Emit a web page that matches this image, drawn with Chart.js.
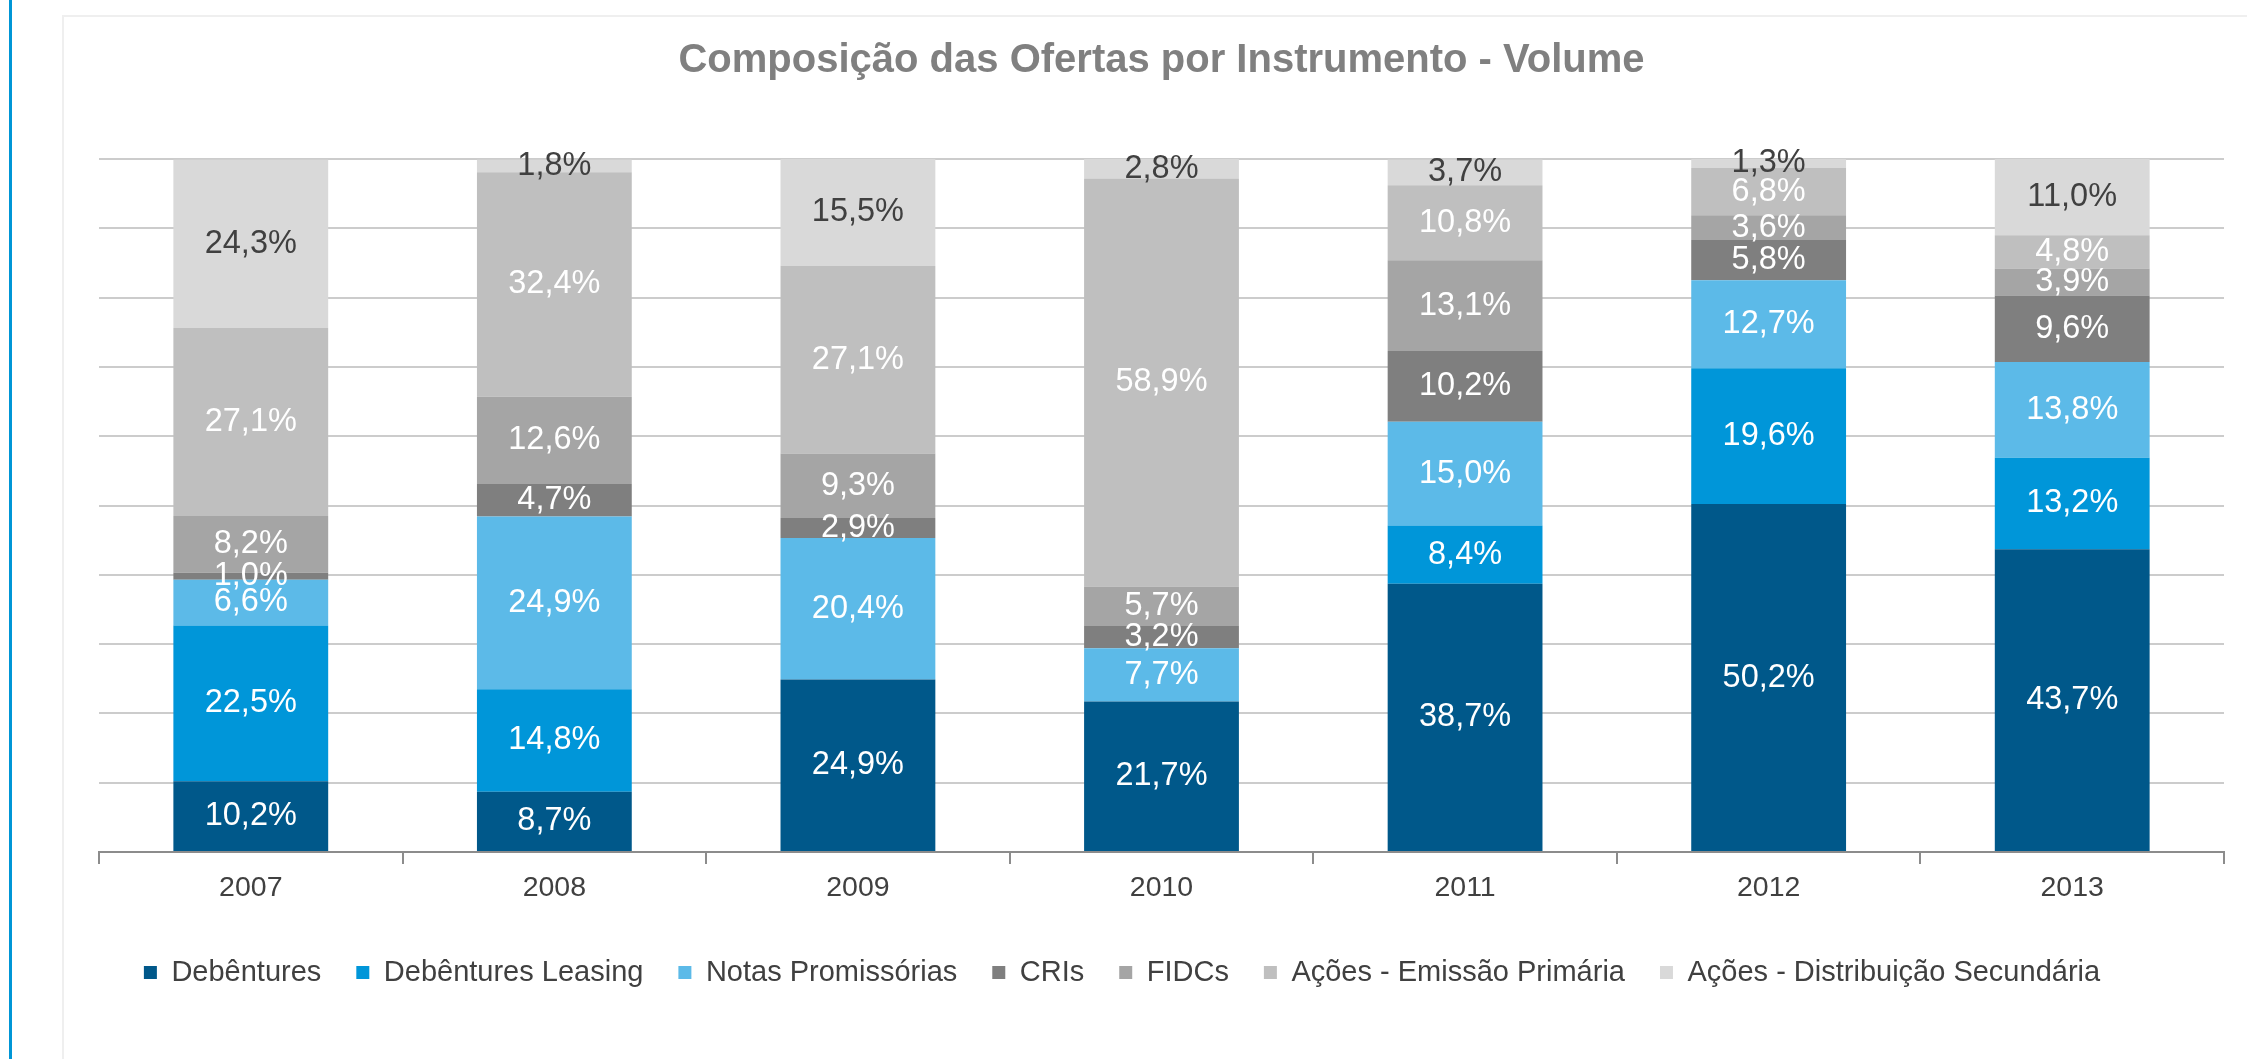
<!DOCTYPE html>
<html>
<head>
<meta charset="utf-8">
<script src="https://cdn.jsdelivr.net/npm/chart.js@4.4.1/dist/chart.umd.min.js"></script>
<style>
  html, body { margin: 0; padding: 0; background: #fff; overflow: hidden; }
  #wrap { position: relative; width: 2247px; height: 1059px; }
  .side-line { position: absolute; left: 9px; top: 0; width: 3px; height: 1059px; background: #0096d6; }
  .frame { position: absolute; left: 62px; top: 15px; width: 2300px; height: 1100px; border: 2px solid #efefef; }
  #chart { position: absolute; left: 0; top: 0; }
</style>
</head>
<body>
<div id="wrap">
  <div class="side-line"></div>
  <div class="frame"></div>
  <canvas id="chart" width="2247" height="1059"></canvas>
</div>
<script>
// anos
const years = ["2007", "2008", "2009", "2010", "2011", "2012", "2013"];

// participação (%) por instrumento
const debentures = [10.2, 8.7, 24.9, 21.7, 38.7, 50.2, 43.7];
const debenturesLeasing = [22.5, 14.8, 0, 0, 8.4, 19.6, 13.2];
const notasPromissorias = [6.6, 24.9, 20.4, 7.7, 15.0, 12.7, 13.8];
const cris = [1.0, 4.7, 2.9, 3.2, 10.2, 5.8, 9.6];
const fidcs = [8.2, 12.6, 9.3, 5.7, 13.1, 3.6, 3.9];
const acoesPrimaria = [27.1, 32.4, 27.1, 58.9, 10.8, 6.8, 4.8];
const acoesSecundaria = [24.3, 1.8, 15.5, 2.8, 3.7, 1.3, 11.0];

const FONT = '"Liberation Sans", Arial, sans-serif';
Chart.defaults.font.family = FONT;
Chart.defaults.color = "#404040";

// rótulos no meio de cada segmento
const segmentLabels = {
  id: "segmentLabels",
  afterDatasetsDraw(chart) {
    const ctx = chart.ctx;
    ctx.save();
    ctx.font = "32.5px " + FONT;
    ctx.textAlign = "center";
    ctx.textBaseline = "middle";
    chart.data.datasets.forEach((ds, di) => {
      const meta = chart.getDatasetMeta(di);
      meta.data.forEach((bar, i) => {
        const v = ds.data[i];
        if (!v) return;
        ctx.fillStyle = ds.labelColor;
        const txt = v.toFixed(1).replace(".", ",") + "%";
        ctx.fillText(txt, bar.x, (bar.y + bar.base) / 2);
      });
    });
    ctx.restore();
  },
};

const series = [
  { label: "Debêntures", data: debentures, color: "#00588a", text: "#ffffff" },
  { label: "Debêntures Leasing", data: debenturesLeasing, color: "#0096d9", text: "#ffffff" },
  { label: "Notas Promissórias", data: notasPromissorias, color: "#5cbae8", text: "#ffffff" },
  { label: "CRIs", data: cris, color: "#7f7f7f", text: "#ffffff" },
  { label: "FIDCs", data: fidcs, color: "#a5a5a5", text: "#ffffff" },
  { label: "Ações - Emissão Primária", data: acoesPrimaria, color: "#bfbfbf", text: "#ffffff" },
  { label: "Ações - Distribuição Secundária", data: acoesSecundaria, color: "#d9d9d9", text: "#404040" },
];

new Chart(document.getElementById("chart").getContext("2d"), {
  type: "bar",
  data: {
    labels: years,
    datasets: series.map((s) => ({
      label: s.label,
      data: s.data,
      backgroundColor: s.color,
      labelColor: s.text,
      borderWidth: 0,
      barPercentage: 1,
      categoryPercentage: 0.51,
    })),
  },
  options: {
    responsive: false,
    animation: false,
    devicePixelRatio: 1,
    layout: { padding: { left: 20, right: 23, top: 0, bottom: 62 } },
    plugins: {
      title: {
        display: true,
        fullSize: false,
        text: "Composição das Ofertas por Instrumento - Volume",
        color: "#808080",
        font: { size: 40, weight: "bold" },
        padding: { top: 37, bottom: 74 },
      },
      legend: {
        position: "bottom",
        labels: {
          boxWidth: 13,
          boxHeight: 13,
          padding: 35,
          color: "#404040",
          font: { size: 29 },
        },
      },
      tooltip: { enabled: false },
    },
    scales: {
      x: {
        stacked: true,
        afterFit: (scale) => { scale.height = 71; },
        grid: {
          offset: true,
          drawOnChartArea: false,
          drawTicks: true,
          tickLength: 12,
          color: "#8c8c8c",
          lineWidth: 2,
        },
        border: { display: true, color: "#8c8c8c", width: 2 },
        ticks: { color: "#404040", font: { size: 28.5 }, padding: 7 },
      },
      y: {
        stacked: true,
        min: 0,
        max: 100,
        afterFit: (scale) => { scale.width = 79; },
        ticks: { display: false, stepSize: 10 },
        grid: { color: "#cccccc", lineWidth: 2, drawTicks: false },
        border: { display: false },
      },
    },
  },
  plugins: [segmentLabels],
});
</script>
</body>
</html>
